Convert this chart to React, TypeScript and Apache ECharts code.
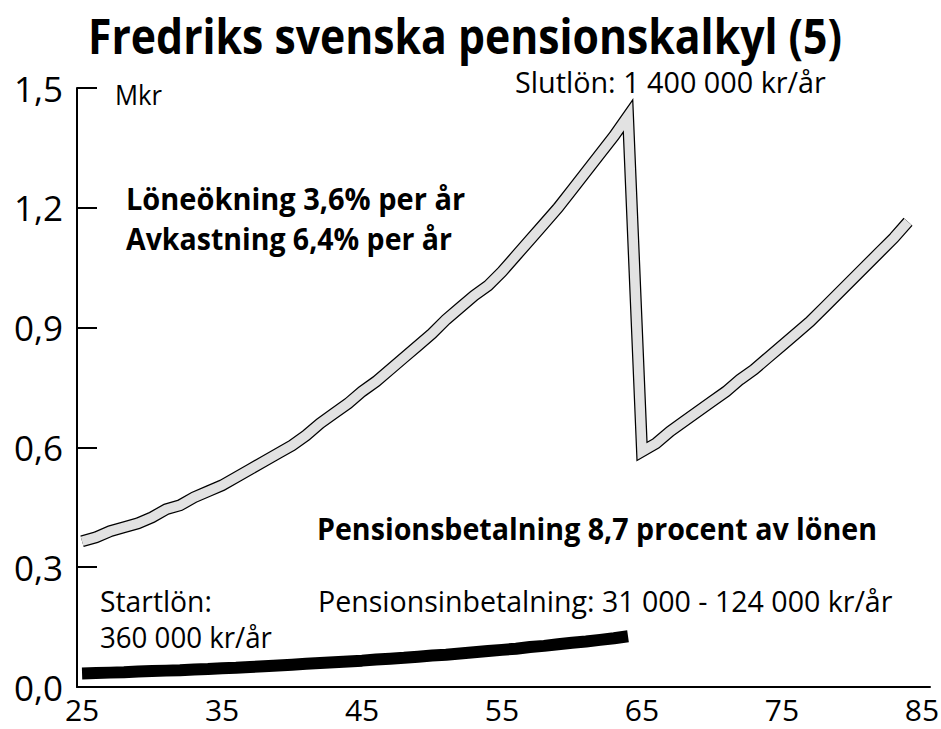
import React, { useEffect, useRef } from "react";
import * as echarts from "echarts";

// ---- Data ----
const workAges = [25, 26, 27, 28, 29, 30, 31, 32, 33, 34, 35, 36, 37, 38, 39, 40, 41, 42, 43, 44, 45, 46, 47, 48, 49, 50, 51, 52, 53, 54, 55, 56, 57, 58, 59, 60, 61, 62, 63, 64];
const salaryMkr = [0.365, 0.375, 0.39, 0.4, 0.41, 0.425, 0.445, 0.455, 0.475, 0.49, 0.505, 0.525, 0.545, 0.565, 0.585, 0.605, 0.63, 0.66, 0.685, 0.71, 0.74, 0.765, 0.795, 0.825, 0.855, 0.885, 0.92, 0.95, 0.98, 1.005, 1.04, 1.08, 1.12, 1.16, 1.2, 1.245, 1.29, 1.335, 1.38, 1.43];
const retireAges = [65, 66, 67, 68, 69, 70, 71, 72, 73, 74, 75, 76, 77, 78, 79, 80, 81, 82, 83, 84];
const pensionMkr = [0.59, 0.61, 0.64, 0.665, 0.69, 0.715, 0.74, 0.77, 0.795, 0.825, 0.855, 0.885, 0.915, 0.95, 0.985, 1.02, 1.055, 1.09, 1.125, 1.165];
const contributionMkr = [0.034, 0.035, 0.036, 0.037, 0.039, 0.04, 0.041, 0.042, 0.044, 0.045, 0.047, 0.048, 0.05, 0.052, 0.054, 0.056, 0.058, 0.06, 0.062, 0.064, 0.066, 0.069, 0.071, 0.073, 0.076, 0.079, 0.081, 0.084, 0.087, 0.09, 0.093, 0.096, 0.1, 0.103, 0.107, 0.111, 0.114, 0.118, 0.122, 0.127];
const xTickLabels = [25, 35, 45, 55, 65, 75, 85];

const TITLE = "Fredriks svenska pensionskalkyl (5)";
const FONT = '"Open Sans", "Noto Sans", sans-serif';

function measure(text: string, size: number, weight: string): number {
  const c = document.createElement("canvas").getContext("2d");
  if (!c) return text.length * size * 0.5;
  c.font = `${weight} ${size}px "Open Sans"`;
  return c.measureText(text).width;
}

function fitText(text: string, x: number, right: number, y: number, size: number, weight: string, align: string = "left") {
  const w = measure(text, size, weight);
  const sx = (right - x) / w;
  const px = align === "center" ? (x + right) / 2 : x;
  return {
    type: "text",
    x: px,
    y,
    scaleX: sx,
    silent: true,
    style: {
      text,
      fontFamily: FONT,
      fontSize: size,
      fontWeight: weight,
      fill: "#000",
      textAlign: align,
      textVerticalAlign: "middle",
    },
  };
}

export default function App() {
  const ref = useRef<HTMLDivElement>(null);

  useEffect(() => {
    if (!ref.current) return;
    const chart = echarts.init(ref.current, undefined, { renderer: "svg" });

    const salaryLine = workAges
      .map((a, i) => [a, salaryMkr[i]])
      .concat(retireAges.map((a, i) => [a, pensionMkr[i]]));
    const contributionLine = workAges.map((a, i) => [a, contributionMkr[i]]);

    const option: any = {
      animation: false,
      backgroundColor: "#fff",
      grid: {
        left: 77,
        right: 11,
        top: 88,
        bottom: 42,
        containLabel: false,
        outerBoundsMode: "none",
      },
      xAxis: {
        type: "value",
        min: 24.64,
        max: 85.57,
        splitLine: { show: false },
        axisLine: { show: true, lineStyle: { color: "#000", width: 2 } },
        axisTick: { show: false },
        axisLabel: {
          customValues: xTickLabels,
          color: "#000",
          fontFamily: FONT,
          fontSize: 30,
          lineHeight: 24,
          margin: 10,
          formatter: (v: number) => String(Math.round(v)),
        },
      },
      yAxis: {
        type: "value",
        min: 0,
        max: 1.5,
        interval: 0.3,
        splitLine: { show: false },
        axisLine: { show: true, onZero: false, lineStyle: { color: "#000", width: 2 } },
        axisTick: { show: true, inside: true, length: 20, lineStyle: { color: "#000", width: 2 } },
        axisLabel: {
          color: "#000",
          fontFamily: FONT,
          fontSize: 35,
          margin: 14,
          formatter: (v: number) => v.toFixed(1).replace(".", ","),
        },
      },
      series: [
        {
          type: "line",
          data: salaryLine,
          symbol: "none",
          silent: true,
          z: 2,
          lineStyle: { color: "#000", width: 12, join: "miter", miterLimit: 20, cap: "butt" },
        },
        {
          type: "line",
          data: salaryLine,
          symbol: "none",
          silent: true,
          z: 3,
          lineStyle: { color: "#e2e2e2", width: 9.5, join: "miter", miterLimit: 20, cap: "butt" },
        },
        {
          type: "line",
          data: contributionLine,
          symbol: "none",
          silent: true,
          z: 4,
          lineStyle: { color: "#000", width: 12, cap: "butt" },
        },
      ],
      graphic: [
        fitText(TITLE, 88, 842, 35, 49, "bold", "center"),
        fitText("Mkr", 115, 162, 94, 28, "normal"),
        fitText("Slutlön: 1 400 000 kr/år", 515, 826, 81, 29, "normal"),
        fitText("Löneökning 3,6% per år", 126, 465, 198, 31, "bold"),
        fitText("Avkastning 6,4% per år", 126, 452, 238, 31, "bold"),
        fitText("Pensionsbetalning 8,7 procent av lönen", 317, 877, 528, 31, "bold"),
        fitText("Startlön:", 100, 212, 600, 29, "normal"),
        fitText("360 000 kr/år", 100, 272, 637, 29, "normal"),
        fitText("Pensionsinbetalning: 31 000 - 124 000 kr/år", 318, 893, 600, 29, "normal"),
      ],
    };

    chart.setOption(option);
    return () => chart.dispose();
  }, []);

  return (
    <div
      ref={ref}
      style={{ position: "fixed", left: 0, top: 0, width: 941, height: 729, background: "#fff" }}
    />
  );
}
